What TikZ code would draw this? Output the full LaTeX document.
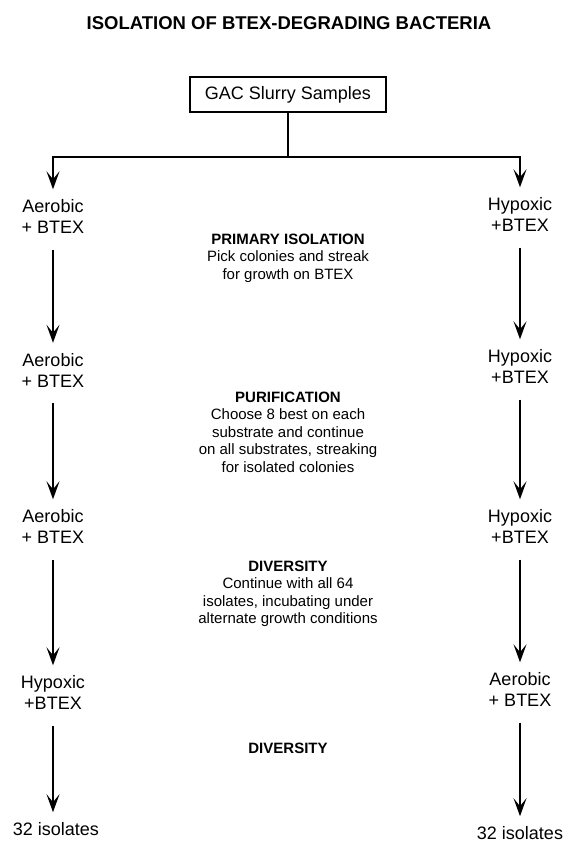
\documentclass[tikz,border=0pt]{standalone}
\usepackage{fontspec}
\setmainfont{Liberation Sans}
\usetikzlibrary{arrows.meta,positioning}

\tikzset{
  stage/.style={align=center, inner sep=0pt, font=\fontsize{18}{21}\selectfont},
  info/.style={align=center, inner sep=0pt, font=\fontsize{15}{17.5}\selectfont},
  flowline/.style={line width=1.4pt},
  flowarrow/.style={flowline, -{Stealth[length=18pt,width=13pt,inset=8pt]}, shorten >=10pt},
  stagearrow/.style={flowarrow, shorten <=16pt},
}

\begin{document}
\begin{tikzpicture}[x=1pt,y=-1pt]
\useasboundingbox (0,0) rectangle (571,850);

% Titel
\node[font=\fontsize{18.5}{21}\selectfont\bfseries] (title) at (289,23) {ISOLATION OF BTEX-DEGRADING BACTERIA};

% Proben
\node[draw, line width=1.3pt, minimum width=196pt, minimum height=35pt, font=\fontsize{18}{21}\selectfont] (gac) at (288,94.5) {GAC Slurry Samples};
\coordinate (split) at (288,157);

% linke Spalte
\node[stage] (left1) at (53,216.5) {Aerobic\\+ BTEX};
\node[stage] (left2) at (53,370) {Aerobic\\+ BTEX};
\node[stage] (left3) at (53,526.5) {Aerobic\\+ BTEX};
\node[stage] (left4) at (53,692.5) {Hypoxic\\+BTEX};
\node[stage] (left5) at (56,829) {32 isolates};

% rechte Spalte
\node[stage] (right1) at (520,214.5) {Hypoxic\\+BTEX};
\node[stage] (right2) at (520,366.5) {Hypoxic\\+BTEX};
\node[stage] (right3) at (520,526.5) {Hypoxic\\+BTEX};
\node[stage] (right4) at (520,689.5) {Aerobic\\+ BTEX};
\node[stage] (right5) at (520,833) {32 isolates};

% Mitte
\node[info] (primary) at (288,258) {\textbf{PRIMARY ISOLATION}\\Pick colonies and streak\\for growth on BTEX};
\node[info] (purify) at (288,432) {\textbf{PURIFICATION}\\Choose 8 best on each\\substrate and continue\\on all substrates, streaking\\for isolated colonies};
\node[info] (diverse) at (288,594) {\textbf{DIVERSITY}\\Continue with all 64\\isolates, incubating under\\alternate growth conditions};
\node[info] (diverse2) at (288,748) {\textbf{DIVERSITY}};

% Verzweigung
\draw[flowline] (gac) -- (split);
\draw[flowarrow] (split) -| (left1);
\draw[flowarrow] (split) -| (right1);

% Pfeile
\foreach \a/\b in {1/2,2/3,3/4}{
  \draw[stagearrow] (left\a) -- (left\b);
  \draw[stagearrow] (right\a) -- (right\b);
}
\draw[stagearrow] (left4.south) -- (left4.south |- left5.north);
\draw[stagearrow] (right4) -- (right5);

\end{tikzpicture}
\end{document}
